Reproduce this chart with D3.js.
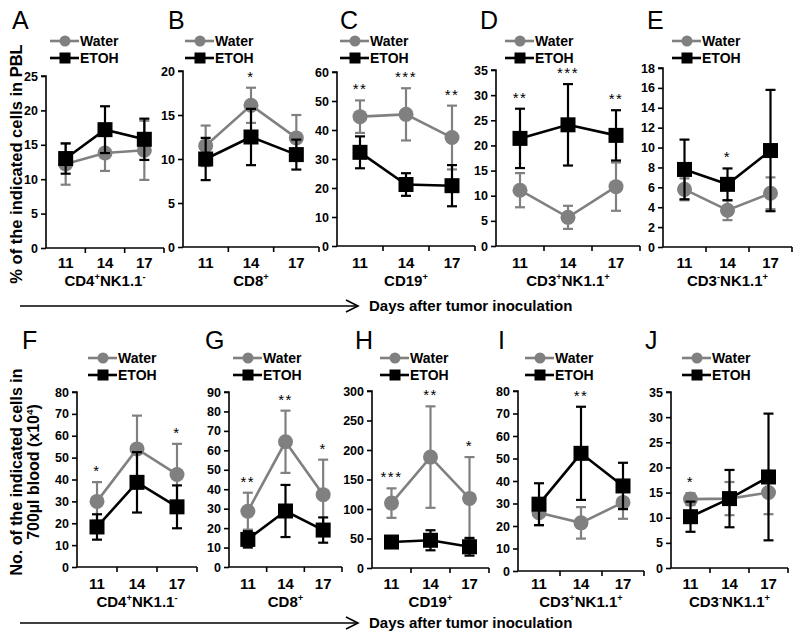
<!DOCTYPE html>
<html><head><meta charset="utf-8">
<script src="https://cdn.jsdelivr.net/npm/d3@7"></script>
<style>body{margin:0;background:#fff} text{font-family:"Liberation Sans",Arial,sans-serif}</style>
</head><body><svg id="c" width="800" height="637"></svg>
<script>
// ---------------- data ----------------
const days = ["11", "14", "17"];
const seriesNames = ["Water", "ETOH"];
const panelLetters = ["A","B","C","D","E","F","G","H","I","J"];
const cellTypes = ["CD4^+NK1.1^-","CD8^+","CD19^+","CD3^+NK1.1^+","CD3^-NK1.1^+",
                   "CD4^+NK1.1^-","CD8^+","CD19^+","CD3^+NK1.1^+","CD3^-NK1.1^+"];
const yMax  = [25, 20, 60, 35, 18, 80, 90, 300, 80, 35];
const yStep = [5, 5, 10, 5, 2, 10, 10, 50, 10, 5];
const waterMean = [
  [12.2, 13.8, 14.2], [11.5, 16.1, 12.4], [44.6, 45.4, 37.4], [11.1, 5.7, 11.8], [5.8, 3.7, 5.4],
  [30.0, 54.0, 42.3], [28.7, 64.4, 37.2], [110, 188, 118], [25.9, 21.4, 30.5], [13.7, 13.8, 15.0]];
const waterErr = [
  [3.0, 2.6, 4.3], [2.3, 2.0, 2.6], [5.6, 9.0, 11.0], [3.4, 2.3, 4.8], [1.1, 1.0, 1.6],
  [8.8, 15.2, 14.0], [9.5, 16.0, 18.0], [25, 86, 70], [5.6, 7.0, 7.3], [1.2, 3.3, 4.3]];
const etohMean = [
  [13.0, 17.2, 15.8], [10.0, 12.5, 10.5], [32.3, 21.2, 20.8], [21.4, 24.1, 22.0], [7.8, 6.3, 9.7],
  [18.3, 38.7, 27.5], [14.2, 28.8, 19.0], [44, 47, 36], [29.7, 52.3, 37.8], [10.2, 13.8, 18.1]];
const etohErr = [
  [2.2, 3.4, 3.0], [2.4, 3.2, 1.7], [5.5, 3.9, 7.1], [5.9, 8.1, 5.0], [3.0, 1.6, 6.1],
  [5.8, 13.8, 9.8], [4.2, 13.4, 6.5], [9, 17, 15], [9.3, 20.7, 10.3], [3.0, 5.7, 12.6]];
const stars = [["","",""],["","*",""],["**","***","**"],["**","***","**"],["","*",""],
               ["*","","*"],["**","**","*"],["***","**","*"],["","**",""],["*","",""]];
const yTitleTop = "% of the indicated cells in PBL";
const yTitleBottom = ["No. of the indicated cells in", "700µl blood (x10^4)"];
const xTitle = "Days after tumor inoculation";

// ---------------- layout ----------------
const layout = [
  {x0:46,  x1:164, top:76,  bottom:248, lg:50,  lt:12},
  {x0:183, x1:319, top:71,  bottom:247, lg:185, lt:168},
  {x0:337, x1:475, top:72,  bottom:246, lg:340, lt:340},
  {x0:496, x1:640, top:70,  bottom:246, lg:505, lt:480},
  {x0:663, x1:792, top:68,  bottom:247, lg:672, lt:647},
  {x0:77,  x1:197, top:392, bottom:567, lg:88,  lt:22},
  {x0:229, x1:342, top:392, bottom:567, lg:233, lt:205},
  {x0:372, x1:489, top:391, bottom:568, lg:380, lt:355},
  {x0:518, x1:644, top:391, bottom:571, lg:525, lt:498},
  {x0:671, x1:788, top:392, bottom:568, lg:682, lt:645}
];
const rows = [
  {letterY:29, legY:41, tickY:268, catY:286, arrowY:306},
  {letterY:349, legY:358, tickY:589, catY:607, arrowY:623}
];
const GRAY = "#808080", BLACK = "#000";

const svg = d3.select("#c");

function richText(sel, str, fs) {
  // "^x" => superscript character; baseline restored on the following run
  const parts = str.split(/(\^.)/).filter(s => s.length);
  let pendingDy = 0;
  parts.forEach(p => {
    if (p[0] === "^") {
      sel.append("tspan").attr("font-size", fs*0.62).attr("dy", -fs*0.38 + pendingDy).text(p[1]);
      pendingDy = fs*0.38;
    } else {
      sel.append("tspan").attr("font-size", fs).attr("dy", pendingDy).text(p);
      pendingDy = 0;
    }
  });
}

panelLetters.forEach((letter, i) => {
  const L = layout[i], R = rows[i < 5 ? 0 : 1];
  const g = svg.append("g");
  const x = d3.scaleBand().domain(days).range([L.x0, L.x1]).paddingInner(0).paddingOuter(0);
  const y = d3.scaleLinear().domain([0, yMax[i]]).range([L.bottom, L.top]);
  const cx = d => x(d) + x.bandwidth()/2;

  g.append("text").attr("x", L.lt).attr("y", R.letterY).attr("font-size", 25).text(letter);

  // y axis
  const ticks = d3.range(0, yMax[i] + 1e-9, yStep[i]);
  const ya = d3.axisLeft(y).tickValues(ticks).tickSize(5).tickPadding(3).tickFormat(d3.format("d"));
  const yg = g.append("g").attr("transform", `translate(${L.x0},0)`).call(ya);
  yg.select(".domain").attr("stroke-width", 1.6).attr("d", `M-5,${L.top}H0V${L.bottom}`);
  yg.selectAll(".tick line").attr("stroke-width", 1.6);
  yg.selectAll(".tick text").attr("font-size", 12.5).attr("font-weight", "bold")
    .attr("font-family", '"Liberation Sans",Arial,sans-serif').attr("fill", "#000");

  // x axis with ticks at category boundaries
  const xa = d3.axisBottom(x).tickSize(0).tickFormat("");
  const xg = g.append("g").attr("transform", `translate(0,${L.bottom})`).call(xa);
  xg.select(".domain").attr("stroke-width", 1.6).attr("d", `M${L.x0},0H${L.x1}`);
  const bounds = days.map(d => x(d)).concat([L.x1]);
  xg.selectAll("line.b").data(bounds.slice(1)).join("line").attr("class","b")
    .attr("x1", d => d).attr("x2", d => d).attr("y1", 0).attr("y2", 5)
    .attr("stroke", "#000").attr("stroke-width", 1.6);
  g.selectAll("text.xt").data(days).join("text").attr("class","xt")
    .attr("x", cx).attr("y", R.tickY).attr("text-anchor", "middle")
    .attr("font-size", 15).attr("font-weight", "bold").text(d => d);

  const ct = g.append("text").attr("x", (L.x0 + L.x1)/2).attr("y", R.catY)
    .attr("text-anchor", "middle").attr("font-weight", "bold");
  richText(ct, cellTypes[i], 15);

  const series = [
    {name: seriesNames[0], mean: waterMean[i], err: waterErr[i], color: GRAY, shape: "circle"},
    {name: seriesNames[1], mean: etohMean[i], err: etohErr[i], color: BLACK, shape: "square"}
  ];
  series.forEach(s => {
    const pts = days.map((d, k) => ({d, v: s.mean[k], e: s.err[k]}));
    const eb = g.append("g");
    pts.forEach(p => {
      const X = cx(p.d), y1 = y(p.v + p.e), y2 = y(Math.max(0, p.v - p.e));
      eb.append("line").attr("x1", X).attr("x2", X).attr("y1", y1).attr("y2", y2)
        .attr("stroke", s.color).attr("stroke-width", 2.2);
      [y1, y2].forEach(yy => eb.append("line").attr("x1", X-5).attr("x2", X+5)
        .attr("y1", yy).attr("y2", yy).attr("stroke", s.color).attr("stroke-width", 2.2));
    });
    g.append("path").datum(pts)
      .attr("d", d3.line().x(p => cx(p.d)).y(p => y(p.v)))
      .attr("fill", "none").attr("stroke", s.color).attr("stroke-width", 2.6);
    if (s.shape === "circle") {
      g.selectAll(null).data(pts).join("circle").attr("cx", p => cx(p.d)).attr("cy", p => y(p.v))
        .attr("r", 7.5).attr("fill", s.color);
    } else {
      g.selectAll(null).data(pts).join("rect").attr("x", p => cx(p.d) - 7.5).attr("y", p => y(p.v) - 7.5)
        .attr("width", 15).attr("height", 15).attr("fill", s.color);
    }
  });

  days.forEach((d, k) => {
    const st = stars[i][k];
    if (!st) return;
    const topPx = Math.min(y(waterMean[i][k] + waterErr[i][k]), y(etohMean[i][k] + etohErr[i][k]));
    g.append("text").attr("x", cx(d)).attr("y", topPx - 6).attr("text-anchor", "middle")
      .attr("font-size", 15).attr("letter-spacing", 1.5).attr("fill", "#000").text(st);
  });

  series.forEach((s, k) => {
    const ly = R.legY + k * 17;
    g.append("line").attr("x1", L.lg).attr("x2", L.lg + 29).attr("y1", ly).attr("y2", ly)
      .attr("stroke", s.color).attr("stroke-width", 2.6);
    if (s.shape === "circle") g.append("circle").attr("cx", L.lg + 15).attr("cy", ly).attr("r", 5.5).attr("fill", s.color);
    else g.append("rect").attr("x", L.lg + 9.5).attr("y", ly - 5.5).attr("width", 11).attr("height", 11).attr("fill", s.color);
    g.append("text").attr("x", L.lg + 30).attr("y", ly + 5).attr("font-size", 14)
      .attr("font-weight", "bold").text(s.name);
  });
});

// y axis titles
svg.append("text").attr("transform", "translate(22,164) rotate(-90)").attr("text-anchor", "middle")
  .attr("font-size", 16.5).attr("font-weight", "bold").text(yTitleTop);
yTitleBottom.forEach((t, k) => {
  const tt = svg.append("text").attr("transform", `translate(${22 + k*17},472) rotate(-90)`)
    .attr("text-anchor", "middle").attr("font-weight", "bold");
  richText(tt, t, 16);
});

// arrows + x titles
rows.forEach(R => {
  svg.append("line").attr("x1", 20).attr("x2", 358).attr("y1", R.arrowY).attr("y2", R.arrowY)
    .attr("stroke", "#000").attr("stroke-width", 1.6);
  svg.append("path").attr("d", `M346,${R.arrowY-6}L358,${R.arrowY}L346,${R.arrowY+6}`)
    .attr("fill", "none").attr("stroke", "#000").attr("stroke-width", 1.6);
  svg.append("text").attr("x", 369).attr("y", R.arrowY + 5).attr("font-size", 15)
    .attr("font-weight", "bold").text(xTitle);
});
</script></body></html>
